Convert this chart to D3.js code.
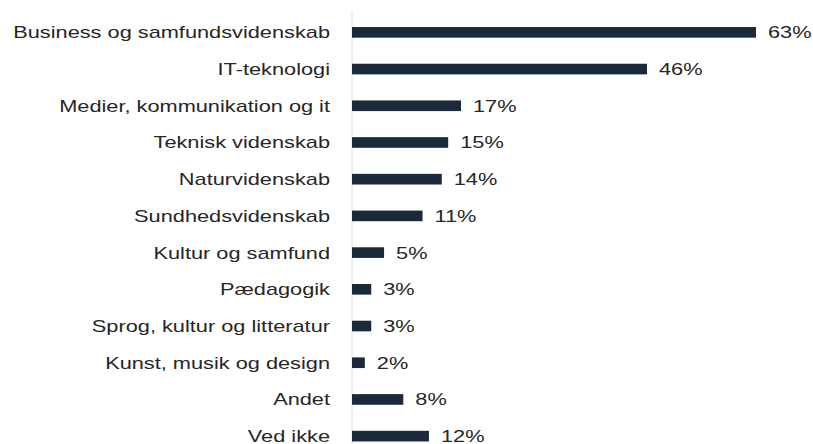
<!DOCTYPE html>
<html>
<head>
<meta charset="utf-8">
<script src="https://cdn.jsdelivr.net/npm/d3@7"></script>
<style>
  body { margin: 0; background: #fff; }
  text { font-family: "Liberation Sans", Arial, sans-serif; fill: #262626; }
</style>
</head>
<body>
<div id="chart"></div>
<script>
// Data
const categories = [
  "Business og samfundsvidenskab",
  "IT-teknologi",
  "Medier, kommunikation og it",
  "Teknisk videnskab",
  "Naturvidenskab",
  "Sundhedsvidenskab",
  "Kultur og samfund",
  "Pædagogik",
  "Sprog, kultur og litteratur",
  "Kunst, musik og design",
  "Andet",
  "Ved ikke"
]
const values = [63, 46, 17, 15, 14, 11, 5, 3, 3, 2, 8, 12]

const width = 813
const height = 444
const baseX = 352
const barColor = "#1b2a3b"
const stretch = 1.28   // Text im Original horizontal gestreckt

const svg = d3.select("#chart")
  .append("svg")
  .attr("width", width)
  .attr("height", height)

const x = d3.scaleLinear()
  .domain([0, 63])
  .range([baseX, 756])

const y = d3.scaleBand()
  .domain(categories)
  .range([14, 454.5])
  .paddingInner(0.71)
  .paddingOuter(0.355)

const rows = categories.map((c, i) => ({ cat: c, val: values[i] }))

// Axis line (faint)
svg.append("line")
  .attr("x1", baseX).attr("x2", baseX)
  .attr("y1", 12).attr("y2", height)
  .attr("stroke", "#dcdcdc")
  .attr("stroke-width", 1)

// Bars
svg.append("g")
  .selectAll("rect")
  .data(rows)
  .enter()
  .append("rect")
  .attr("x", x(0))
  .attr("y", d => y(d.cat))
  .attr("width", d => x(d.val) - x(0))
  .attr("height", y.bandwidth())
  .attr("fill", barColor)

// Category labels
svg.append("g")
  .selectAll("text")
  .data(rows)
  .enter()
  .append("text")
  .attr("transform", d => "translate(330," + (y(d.cat) + y.bandwidth() / 2) + ") scale(" + stretch + ",1)")
  .attr("dy", "0.35em")
  .attr("text-anchor", "end")
  .style("font-size", "17px")
  .text(d => d.cat)

// Value labels
svg.append("g")
  .selectAll("text")
  .data(rows)
  .enter()
  .append("text")
  .attr("transform", d => "translate(" + (x(d.val) + 12) + "," + (y(d.cat) + y.bandwidth() / 2) + ") scale(" + stretch + ",1)")
  .attr("dy", "0.35em")
  .style("font-size", "17px")
  .text(d => d.val + "%")
</script>
</body>
</html>
